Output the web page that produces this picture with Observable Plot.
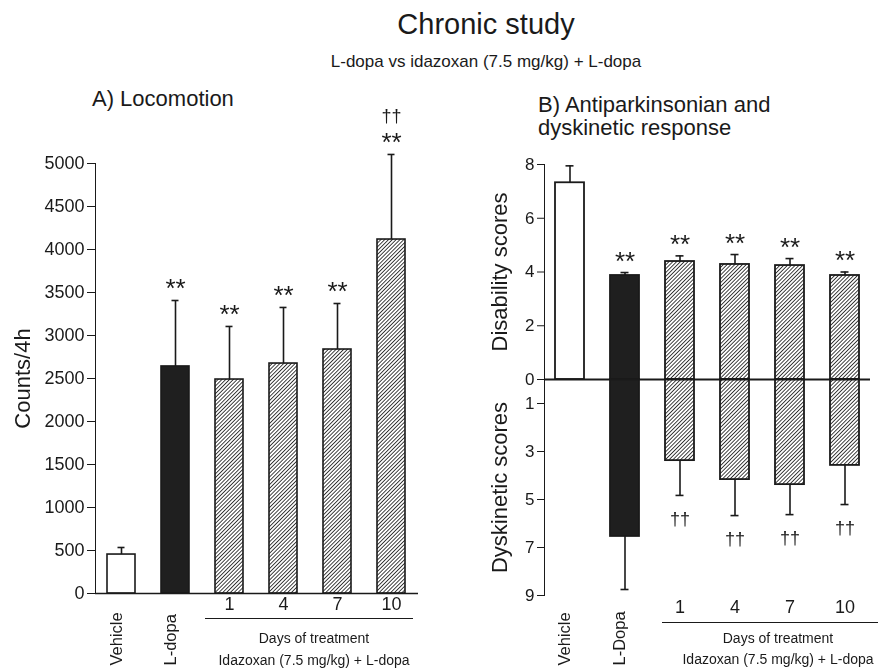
<!DOCTYPE html>
<html>
<head>
<meta charset="utf-8">
<script src="https://cdn.jsdelivr.net/npm/d3@7"></script>
<script src="https://cdn.jsdelivr.net/npm/@observablehq/plot@0.6"></script>
<style>
  html, body { margin: 0; padding: 0; background: #fff; }
  #wrap { position: relative; width: 882px; height: 668px; background: #fff; font-family: "Liberation Sans", Arial, Helvetica, sans-serif; color: #1a1a1a; overflow: hidden; }
  .abs { position: absolute; white-space: nowrap; }
  .plotbox { position: absolute; will-change: transform; }
  .plotbox svg { overflow: visible; }
  .uline { position: absolute; border-top: 1.5px solid #1a1a1a; height: 0; }
</style>
</head>
<body>
<svg width="0" height="0" style="position:absolute">
  <defs>
    <pattern id="hatch" patternUnits="userSpaceOnUse" width="2.7" height="2.7" patternTransform="rotate(45)">
      <rect width="2.7" height="2.7" fill="#ffffff"></rect>
      <line x1="1.35" y1="0" x2="1.35" y2="2.7" stroke="#2a2a2a" stroke-width="0.9"></line>
    </pattern>
  </defs>
</svg>
<div id="wrap">
  <div class="abs" style="left:286px; width:400px; text-align:center; top:10px; font-size:29px; line-height:29px;">Chronic study</div>
  <div class="abs" style="left:286px; width:400px; text-align:center; top:53px; font-size:17px; line-height:17px;">L-dopa vs idazoxan (7.5 mg/kg) + L-dopa</div>
  <div class="abs" style="left:92px; top:88px; font-size:22px; line-height:22px;">A) Locomotion</div>
  <div class="abs" style="left:538px; top:93px; font-size:22px; line-height:23px;">B) Antiparkinsonian and<br>dyskinetic response</div>
  <div id="left" class="plotbox" style="left:0px; top:0px;"></div>
  <div id="rightTop" class="plotbox" style="left:440px; top:0px;"></div>
  <div id="rightBottom" class="plotbox" style="left:440px; top:370px;"></div>
  <div class="uline" style="left:205px; top:618px; width:208px;"></div>
  <div class="abs" style="left:214px; width:200px; text-align:center; top:631px; font-size:14px; line-height:14px;">Days of treatment</div>
  <div class="abs" style="left:214px; width:200px; text-align:center; top:653px; font-size:14px; line-height:14px;">Idazoxan (7.5 mg/kg) + L-dopa</div>
  <div class="uline" style="left:662px; top:622px; width:216px;"></div>
  <div class="abs" style="left:678px; width:200px; text-align:center; top:631px; font-size:14px; line-height:14px;">Days of treatment</div>
  <div class="abs" style="left:678px; width:200px; text-align:center; top:652px; font-size:14px; line-height:14px;">Idazoxan (7.5 mg/kg) + L-dopa</div>
</div>
<script>
// ---- Data ----
const locomotionCats = ["Vehicle", "L-dopa", "1", "4", "7", "10"];
const locomotionMean = [453, 2640, 2488, 2674, 2837, 4116];
const locomotionSem = [82, 767, 617, 652, 535, 989];
const locomotionStars = ["", "**", "**", "**", "**", "**"];
const locomotionDaggers = ["", "", "", "", "", "††"];
const locomotionTicks = [0, 500, 1000, 1500, 2000, 2500, 3000, 3500, 4000, 4500, 5000];

const responseCats = ["Vehicle", "L-Dopa", "1", "4", "7", "10"];
const disabilityMean = [7.32, 3.87, 4.39, 4.28, 4.24, 3.87];
const disabilitySem = [0.63, 0.11, 0.21, 0.37, 0.26, 0.13];
const dyskineticMean = [0, 6.54, 3.38, 4.17, 4.38, 3.58];
const dyskineticSem = [0, 2.21, 1.45, 1.50, 1.25, 1.63];
const responseStars = ["", "**", "**", "**", "**", "**"];
const responseDaggers = ["", "", "††", "††", "††", "††"];
const disabilityTicks = [0, 2, 4, 6, 8];
const dyskineticTicks = [1, 3, 5, 7, 9];

const dayCats = ["1", "4", "7", "10"];
const ink = "#1a1a1a";
const fillFor = (i) => i === 0 ? "#ffffff" : i === 1 ? "#1f1f1f" : "url(#hatch)";
const fontFamily = "'Liberation Sans', Arial, Helvetica, sans-serif";

// ---- Left panel: Locomotion ----
const locRows = locomotionCats.map((c, i) => ({
  cat: c, mean: locomotionMean[i], top: locomotionMean[i] + locomotionSem[i],
  star: locomotionStars[i], dagger: locomotionDaggers[i], fill: fillFor(i)
}));

const leftPlot = Plot.plot({
  width: 440, height: 668,
  marginLeft: 95, marginRight: 22, marginTop: 163, marginBottom: 75,
  style: {fontSize: "18px", fontFamily, background: "transparent", color: ink, overflow: "visible"},
  x: {type: "band", domain: locomotionCats, paddingInner: 0.48, paddingOuter: 0.21, axis: null},
  y: {domain: [0, 5000], ticks: locomotionTicks, tickFormat: d => String(d), tickSize: 8, tickPadding: 3, line: true, label: null},
  color: {type: "identity"},
  marks: [
    Plot.barY(locRows, {x: "cat", y: "mean", fill: "fill", stroke: ink, strokeWidth: 1.6}),
    Plot.ruleX(locRows, {x: "cat", y1: "mean", y2: "top", stroke: ink, strokeWidth: 1.6}),
    Plot.tickY(locRows, {x: "cat", y: "top", stroke: ink, strokeWidth: 1.6, insetLeft: 10.5, insetRight: 10.5}),
    Plot.ruleY([0], {stroke: ink, strokeWidth: 1.6}),
    Plot.text(locRows.filter(d => d.star), {x: "cat", y: "top", text: "star", dy: -12, fontSize: 26, fill: ink}),
    Plot.text(locRows.filter(d => d.dagger), {x: "cat", y: "top", text: "dagger", dy: -38, fontSize: 18, fill: ink}),
    Plot.text(dayCats, {x: d => d, text: d => d, frameAnchor: "bottom", dy: 16, fontSize: 18, fill: ink}),
    Plot.text(locomotionCats.slice(0, 2), {x: d => d, text: d => d, frameAnchor: "bottom", dy: 72, rotate: -90, textAnchor: "start", fontSize: 16.5, fill: ink}),
    Plot.text(["Counts/4h"], {frameAnchor: "left", dx: -73, rotate: -90, textAnchor: "middle", fontSize: 22, fill: ink})
  ]
});
document.getElementById("left").appendChild(leftPlot);

// ---- Right panel: Antiparkinsonian (up) and dyskinetic (down) response ----
const respRows = responseCats.map((c, i) => ({
  cat: c,
  dis: disabilityMean[i], disTop: disabilityMean[i] + disabilitySem[i],
  dys: dyskineticMean[i], dysBot: dyskineticMean[i] + dyskineticSem[i],
  star: responseStars[i], dagger: responseDaggers[i], fill: fillFor(i)
}));
const xRight = {type: "band", domain: responseCats, paddingInner: 0.48, paddingOuter: 0.2, axis: null};

// upper half: disability scores (0 at bottom, 8 at top)
const rightTop = Plot.plot({
  width: 442, height: 390,
  marginLeft: 104, marginRight: 12, marginTop: 164, marginBottom: 11,
  style: {fontSize: "17px", fontFamily, background: "transparent", color: ink, overflow: "visible"},
  x: xRight,
  y: {domain: [0, 8], ticks: disabilityTicks, tickSize: 7, tickPadding: 3, line: true, label: null},
  color: {type: "identity"},
  marks: [
    Plot.barY(respRows, {x: "cat", y: "dis", fill: "fill", stroke: ink, strokeWidth: 1.8}),
    Plot.ruleX(respRows, {x: "cat", y1: "dis", y2: "disTop", stroke: ink, strokeWidth: 1.6}),
    Plot.tickY(respRows, {x: "cat", y: "disTop", stroke: ink, strokeWidth: 1.6, insetLeft: 10.5, insetRight: 10.5}),
    Plot.text(respRows.filter(d => d.star), {x: "cat", y: "disTop", text: "star", dy: -11, fontSize: 26, fill: ink}),
    Plot.text(["Disability scores"], {y: 4, frameAnchor: "left", dx: -45, rotate: -90, textAnchor: "middle", fontSize: 22, fill: ink})
  ]
});
document.getElementById("rightTop").appendChild(rightTop);

// lower half: dyskinetic scores (0 at top, 9 at bottom)
const dysRows = respRows.filter(d => d.dys > 0);
const rightBottom = Plot.plot({
  width: 442, height: 298,
  marginLeft: 104, marginRight: 12, marginTop: 9, marginBottom: 73,
  style: {fontSize: "17px", fontFamily, background: "transparent", color: ink, overflow: "visible"},
  x: xRight,
  y: {domain: [0, 9], reverse: true, ticks: dyskineticTicks, tickSize: 7, tickPadding: 3, line: true, label: null},
  color: {type: "identity"},
  marks: [
    Plot.barY(dysRows, {x: "cat", y: "dys", fill: "fill", stroke: ink, strokeWidth: 1.8}),
    Plot.ruleX(dysRows, {x: "cat", y1: "dys", y2: "dysBot", stroke: ink, strokeWidth: 1.6}),
    Plot.tickY(dysRows, {x: "cat", y: "dysBot", stroke: ink, strokeWidth: 1.6, insetLeft: 10.5, insetRight: 10.5}),
    Plot.ruleY([0], {stroke: ink, strokeWidth: 2.2}),
    Plot.text(dysRows.filter(d => d.dagger), {x: "cat", y: "dysBot", text: "dagger", dy: 24, fontSize: 18, fill: ink}),
    Plot.text(dayCats, {x: d => d, text: d => d, frameAnchor: "bottom", dy: 17, fontSize: 18, fill: ink}),
    Plot.text(responseCats.slice(0, 2), {x: d => d, text: d => d, frameAnchor: "bottom", dy: 70, rotate: -90, textAnchor: "start", fontSize: 16.5, fill: ink}),
    Plot.text(["Dyskinetic scores"], {y: 4.5, frameAnchor: "left", dx: -45, rotate: -90, textAnchor: "middle", fontSize: 22, fill: ink})
  ]
});
document.getElementById("rightBottom").appendChild(rightBottom);
</script>
</body>
</html>
